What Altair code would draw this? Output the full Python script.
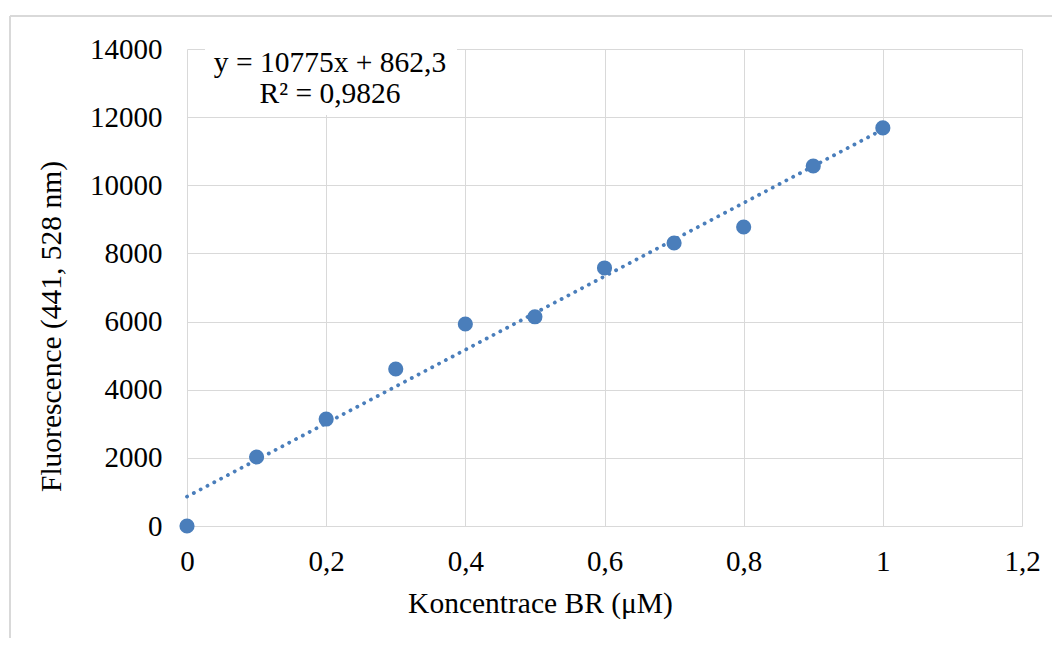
import altair as alt
import pandas as pd

# ---- data ----
conc = [0.0, 0.1, 0.2, 0.3, 0.4, 0.5, 0.6, 0.7, 0.8, 0.9, 1.0]
fluor = [0, 2025, 3140, 4608, 5929, 6141, 7573, 8306, 8776, 10566, 11683]
x_ticks = [0, 0.2, 0.4, 0.6, 0.8, 1.0, 1.2]
y_ticks = [0, 2000, 4000, 6000, 8000, 10000, 12000, 14000]
eq_line1 = "y = 10775x + 862,3"
eq_line2 = "R² = 0,9826"
x_title = "Koncentrace BR (μM)"
y_title = "Fluorescence (441, 528 nm)"

df = pd.DataFrame({"x": conc, "y": fluor})

FONT = "Liberation Serif"
BLUE = "#4a7ebb"
GRID = "#d9d9d9"
FS = 29
FS_TITLE = 29.5

xs = alt.Scale(domain=[0, 1.2], nice=False, zero=False)
ys = alt.Scale(domain=[0, 14000], nice=False)

x_axis = alt.Axis(
    values=x_ticks,
    labelExpr="replace(format(datum.value, '.1~f'), '.', ',')",
    title=x_title,
    grid=True, gridColor=GRID, gridWidth=1,
    domain=False, ticks=False, tickSize=0,
    labelFont=FONT, labelFontSize=FS, labelColor="#000000",
    labelPadding=35, labelBaseline="middle", labelFlush=False, labelOverlap=False,
    titleFont=FONT, titleFontSize=FS_TITLE, titleFontWeight="normal", titleColor="#000000",
    titleX=353, titleY=77, titleAlign="center", titleBaseline="middle",
)
y_axis = alt.Axis(
    values=y_ticks,
    format="d",
    title=y_title,
    grid=True, gridColor=GRID, gridWidth=1,
    domain=False, ticks=False, tickSize=0,
    labelFont=FONT, labelFontSize=FS, labelColor="#000000",
    labelPadding=25, labelFlush=False, labelOverlap=False,
    titleFont=FONT, titleFontSize=FS_TITLE, titleFontWeight="normal", titleColor="#000000",
    titleX=-136, titleY=277, titleAlign="center", titleBaseline="middle", titleAngle=270,
)

base = alt.Chart(df)

points = base.mark_circle(size=230, opacity=1, color=BLUE).encode(
    x=alt.X("x:Q", scale=xs, axis=x_axis),
    y=alt.Y("y:Q", scale=ys, axis=y_axis),
)

trend = base.transform_regression("x", "y").mark_line(
    color=BLUE, strokeWidth=3.8, strokeDash=[0.1, 7.6], strokeCap="round"
).encode(
    x=alt.X("x:Q", scale=xs),
    y=alt.Y("y:Q", scale=ys),
)

eq_df = pd.DataFrame({"t": [eq_line1]})
r2_df = pd.DataFrame({"t": [eq_line2]})

box = alt.Chart(eq_df).mark_rect(fill="white").encode(
    x=alt.value(18), x2=alt.value(270), y=alt.value(-9), y2=alt.value(66)
)
txt1 = alt.Chart(eq_df).mark_text(
    font=FONT, fontSize=FS_TITLE, color="#000000", align="center", baseline="middle"
).encode(x=alt.value(143), y=alt.value(14), text="t:N")
txt2 = alt.Chart(r2_df).mark_text(
    font=FONT, fontSize=FS_TITLE, color="#000000", align="center", baseline="middle"
).encode(x=alt.value(143), y=alt.value(45), text="t:N")

frame_top = alt.Chart(eq_df).mark_rule(color=GRID, strokeWidth=2).encode(
    x=alt.value(-177), x2=alt.value(880), y=alt.value(-33)
)
frame_left = alt.Chart(eq_df).mark_rule(color=GRID, strokeWidth=2).encode(
    x=alt.value(-177), y=alt.value(-33), y2=alt.value(600)
)

chart = alt.layer(frame_top, frame_left, trend, points, box, txt1, txt2).properties(
    width=835,
    height=477,
    autosize=alt.AutoSizeParams(type="none"),
    padding={"left": 179, "top": 41, "right": 30, "bottom": 112},
    background="white",
).configure_view(strokeWidth=0)

chart.save("out.html", embed_options={"renderer": "svg", "actions": False})
